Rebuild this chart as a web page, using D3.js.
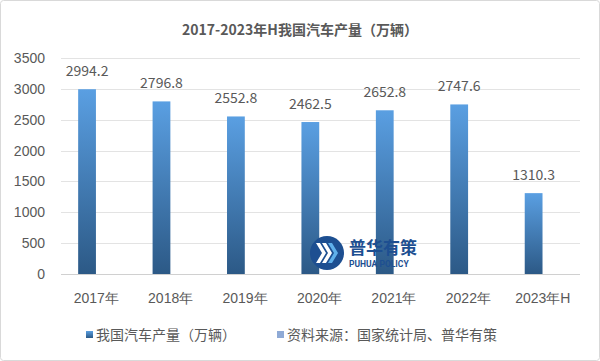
<!DOCTYPE html>
<html><head><meta charset="utf-8">
<script src="https://cdn.jsdelivr.net/npm/d3@7"></script>
<style>
body{margin:0;background:#fff;}
svg{display:block;font-family:"Noto Sans CJK SC","Noto Sans",sans-serif;}
</style></head>
<body><svg id="c" width="600" height="361"></svg>
<script>
const title = "2017-2023年H我国汽车产量（万辆）";
const categories = ["2017年","2018年","2019年","2020年","2021年","2022年","2023年H"];
const seriesNames = ["我国汽车产量（万辆）","资料来源：国家统计局、普华有策"];
const production = [2994.2,2796.8,2552.8,2462.5,2652.8,2747.6,1310.3];
const sourceSeries = [0,0,0,0,0,0,0];
const yTicks = [0,500,1000,1500,2000,2500,3000,3500];

const svg = d3.select("#c");
const W = 600, H = 361;
const m = {l:59, r:20, t:58, b:87};
const textCol = "#595959";

svg.append("rect").attr("x",0.5).attr("y",0.5).attr("width",W-1).attr("height",H-1)
  .attr("rx",3).attr("fill","#fff").attr("stroke","#d9d9d9");

const defs = svg.append("defs");
const g1 = defs.append("linearGradient").attr("id","gb").attr("x1",0).attr("y1",0).attr("x2",0).attr("y2",1);
g1.append("stop").attr("offset","0%").attr("stop-color","#5a9fe2");
g1.append("stop").attr("offset","100%").attr("stop-color","#2c5986");
const gl = defs.append("linearGradient").attr("id","gl").attr("x1",0).attr("y1",0).attr("x2",0).attr("y2",1);
gl.append("stop").attr("offset","0%").attr("stop-color","#5a9fe2");
gl.append("stop").attr("offset","100%").attr("stop-color","#2c5986");

const x0 = d3.scaleBand().domain(categories).range([m.l, W-m.r]).paddingInner(0.5).paddingOuter(0.25);
const x1 = d3.scaleBand().domain(seriesNames).range([0, x0.bandwidth()]).padding(0.03);
const y = d3.scaleLinear().domain([0,3500]).range([H-m.b, m.t]);

svg.append("text").attr("x",300).attr("y",35).attr("text-anchor","middle")
  .attr("font-size",14).attr("font-weight","bold").attr("fill",textCol).text(title);

// grid
svg.append("g").selectAll("line").data(yTicks).join("line")
  .attr("x1",m.l+2).attr("x2",W-m.r).attr("y1",d=>Math.round(y(d))+0.5).attr("y2",d=>Math.round(y(d))+0.5)
  .attr("stroke",d=>d===0?"#d0d0d0":"#e3e3e3").attr("stroke-width",1);

// y axis
const ya = svg.append("g").attr("transform",`translate(${m.l-14},0)`)
  .call(d3.axisLeft(y).tickValues(yTicks).tickFormat(d3.format("d")).tickSize(0).tickPadding(0));
ya.select(".domain").remove();
ya.selectAll("text").attr("font-size",14).attr("fill",textCol).attr("font-family","inherit");

// x axis
const xa = svg.append("g").attr("transform",`translate(0,${H-m.b+13})`)
  .call(d3.axisBottom(x0).tickSize(0).tickPadding(6));
xa.select(".domain").remove();
xa.selectAll("text").attr("font-size",14).attr("fill",textCol).attr("font-family","inherit");

// bars
const full = categories.map((c,i)=>({c, v:production[i], s:sourceSeries[i]}));
svg.append("g").selectAll("rect").data(full).join("rect")
  .attr("x",d=>x0(d.c)+x1(seriesNames[0]))
  .attr("width",x1.bandwidth())
  .attr("y",d=>y(d.v)).attr("height",d=>y(0)-y(d.v))
  .attr("fill","url(#gb)");
svg.append("g").selectAll("text").data(full).join("text")
  .attr("x",d=>x0(d.c)+x1(seriesNames[0])+x1.bandwidth()/2)
  .attr("y",d=>y(d.v)-13).attr("text-anchor","middle")
  .attr("font-size",14).attr("fill",textCol).text(d=>d.v.toFixed(1));

// watermark logo
const lg = svg.append("g");
lg.append("circle").attr("cx",327).attr("cy",253).attr("r",17).attr("fill","#1d4f91");
[0,1,2].forEach(k=>{
  const ox = 316 + k*6;
  lg.append("path").attr("d",`M${ox},243 L${ox+6},253 L${ox},263 L${ox+4},263 L${ox+10},253 L${ox+4},243 Z`)
    .attr("fill", k===2?"#5fb0ea":"#ffffff");
});
lg.append("text").attr("x",349).attr("y",254).attr("font-size",17).attr("font-weight","bold")
  .attr("fill","#1d4f91").text("普华有策");
lg.append("text").attr("x",349).attr("y",267).attr("font-size",8.5).attr("font-weight","bold")
  .attr("font-family","Roboto, sans-serif").attr("fill","#1d4f91").text("PUHUA POLICY");

// legend
const legend = [{name:seriesNames[0], x:86, fill:"url(#gl)"},{name:seriesNames[1], x:277, fill:"#8faad6"}];
const lgd = svg.append("g");
lgd.selectAll("rect").data(legend).join("rect")
  .attr("x",d=>d.x).attr("y",331).attr("width",7).attr("height",7).attr("fill",d=>d.fill);
lgd.selectAll("text").data(legend).join("text")
  .attr("x",d=>d.x+10).attr("y",340).attr("font-size",14).attr("fill",textCol).text(d=>d.name);
</script></body></html>
